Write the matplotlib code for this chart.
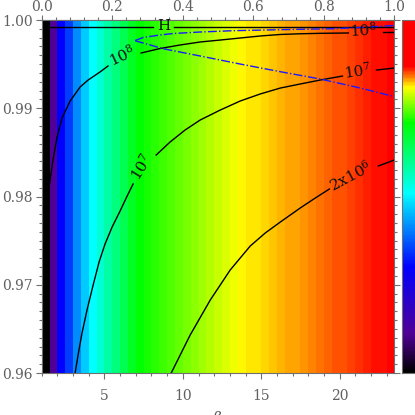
import numpy as np
import matplotlib
matplotlib.use("Agg")
import matplotlib.pyplot as plt
from matplotlib.colors import LinearSegmentedColormap
from matplotlib.ticker import MultipleLocator

plt.rcParams['font.family'] = ['DejaVu Serif']
plt.rcParams['mathtext.fontset'] = 'dejavuserif'

# stripe colour value for each 0.5-wide beta bin (1.0 .. 23.5)
stripe_edges = np.linspace(1.0, 23.5, 46)
stripe_val = [0.00, 0.11, 0.30, 0.35, 0.415, 0.465, 0.51, 0.545, 0.58, 0.61,
              0.645, 0.68, 0.71, 0.718, 0.725, 0.733, 0.741, 0.748, 0.756, 0.764,
              0.772, 0.779, 0.787, 0.795, 0.802, 0.81, 0.813, 0.816, 0.82, 0.823,
              0.826, 0.829, 0.832, 0.835, 0.838, 0.842, 0.845, 0.848, 0.851, 0.854,
              0.857, 0.861, 0.864, 0.867, 0.87]

# contour 1e8 (three pieces, broken for labels)
c8_b1 = [1.10, 1.30, 1.47, 1.72, 1.98, 2.30, 2.81, 3.45, 3.96, 4.72, 5.23]
c8_y1 = [0.9772, 0.9796, 0.9811, 0.98414, 0.98674, 0.9889, 0.99082, 0.99241, 0.9932, 0.99411, 0.99479]
c8_b2 = [7.34, 8.55, 9.83, 11.11, 12.39, 13.66, 14.94, 16.22, 17.49, 18.77, 20.56]
c8_y2 = [0.99626, 0.99677, 0.99717, 0.99751, 0.99773, 0.99796, 0.99819, 0.99836, 0.99844, 0.99849, 0.99853]
c8_b3 = [22.79, 23.5]
c8_y3 = [0.99864, 0.99864]

# contour 1e7
c7_b1 = [3.13, 3.32, 3.57, 3.89, 4.28, 4.66, 5.04, 5.49, 6.00, 6.45, 6.83]
c7_y1 = [0.96, 0.96204, 0.96453, 0.96714, 0.96997, 0.97258, 0.97462, 0.97654, 0.97836, 0.98006, 0.98142]
c7_b2 = [8.30, 9.19, 10.15, 11.11, 12.39, 13.66, 14.94, 16.22, 17.49, 18.77, 20.18]
c7_y2 = [0.9847, 0.98618, 0.98754, 0.98867, 0.9898, 0.99082, 0.99162, 0.99229, 0.99275, 0.9932, 0.99365]
c7_b3 = [22.35, 23.5]
c7_y3 = [0.99433, 0.99456]

# contour 2e6
c2_b1 = [9.26, 10.47, 11.75, 13.02, 14.30, 15.26, 16.22, 17.49, 18.45, 19.35]
c2_y1 = [0.96, 0.96431, 0.96827, 0.97167, 0.97439, 0.97587, 0.97711, 0.9787, 0.97983, 0.98085]
c2_b2 = [22.47, 23.5]
c2_y2 = [0.98346, 0.98414]

# H line
h_b1 = [1.0, 8.11]
h_b2 = [9.45, 23.5]
h_y = 0.99917

# blue dash-dot wedge
bu_b = [6.96, 7.47, 8.55, 9.38, 11.11, 13.22, 15.32, 17.49, 19.60, 21.33, 23.5]
bu_y = [0.99768, 0.99802, 0.9983, 0.99847, 0.99864, 0.99879, 0.99887, 0.99895, 0.99901, 0.99915, 0.99938]
bl_b = [6.96, 7.92, 8.68, 11.11, 13.66, 16.22, 18.77, 21.33, 23.5]
bl_y = [0.99765, 0.99717, 0.99677, 0.99592, 0.99501, 0.99414, 0.99331, 0.99229, 0.99131]

labels = [(6.13, 0.99592, r'$10^8$', 25), (21.52, 0.99887, r'$10^8$', 3),
          (7.34, 0.98334, r'$10^7$', 58), (21.14, 0.99422, r'$10^7$', 8),
          (20.69, 0.98232, r'$2\mathrm{x}10^6$', 28), (8.81, 0.99932, 'H', 0)]

rainbow = LinearSegmentedColormap.from_list('idl_rainbow', [
    (0.0, '#000000'), (0.11, '#500096'), (0.30, '#0000ff'), (0.51, '#00ffff'),
    (0.71, '#00ff00'), (0.81, '#ffff00'), (0.87, '#ff0000'), (1.0, '#ff0000')])

gray = '#707070'
fig = plt.figure(figsize=(4.15, 4.15), dpi=100)
ax = fig.add_axes([0.1005, 0.1012, 0.8501, 0.8506])
mesh = ax.pcolormesh(stripe_edges, [0.96, 1.0], np.array([stripe_val]),
                     cmap=rainbow, vmin=0, vmax=1)

for b, y in [(c8_b1, c8_y1), (c8_b2, c8_y2), (c8_b3, c8_y3),
             (c7_b1, c7_y1), (c7_b2, c7_y2), (c7_b3, c7_y3),
             (c2_b1, c2_y1), (c2_b2, c2_y2)]:
    ax.plot(b, y, color='black', lw=1.0)
ax.plot(h_b1, [h_y, h_y], color='black', lw=1.0)
ax.plot(h_b2, [h_y, h_y], color='black', lw=1.0)
ax.plot(bu_b, bu_y, color='#1a1aff', lw=1.0, ls='-.')
ax.plot(bl_b, bl_y, color='#1a1aff', lw=1.0, ls='-.')

for b, y, t, r in labels:
    ax.text(b, y, t, rotation=r, ha='center', va='center', fontsize=11,
            color='#111111', rotation_mode='anchor')

ax.set_xlim(1.0, 23.5)
ax.set_ylim(0.96, 1.0)
ax.xaxis.set_major_locator(MultipleLocator(5))
ax.xaxis.set_minor_locator(MultipleLocator(1))
ax.yaxis.set_major_locator(MultipleLocator(0.01))
ax.yaxis.set_minor_locator(MultipleLocator(0.001))
ax.set_yticks([0.96, 0.97, 0.98, 0.99, 1.0])
ax.set_yticklabels(['0.96', '0.97', '0.98', '0.99', '1.00'])
ax.tick_params(which='both', direction='out', color=gray, labelcolor='#606060',
               labelsize=10, right=True, width=0.8)
ax.tick_params(which='major', length=4.5)
ax.tick_params(which='minor', length=2.2)
ax.tick_params(axis='x', pad=7)
ax.tick_params(axis='y', pad=2)
for s in ax.spines.values():
    s.set_color(gray)
    s.set_linewidth(0.8)

top = ax.secondary_xaxis('top', functions=(lambda b: (b - 1.0) / 22.5,
                                             lambda p: p * 22.5 + 1.0))
top.xaxis.set_major_locator(MultipleLocator(0.2))
top.xaxis.set_minor_locator(MultipleLocator(0.04))
top.set_xticks([0.0, 0.2, 0.4, 0.6, 0.8, 1.0])
top.set_xticklabels(['0.0', '0.2', '0.4', '0.6', '0.8', '1.0'])
top.tick_params(which='both', direction='out', color=gray, labelcolor='#606060',
                labelsize=10, width=0.8, pad=0.8)
top.tick_params(which='major', length=3.6)
top.tick_params(which='minor', length=2.0)
top.spines['top'].set_color(gray)

fig.text(0.515, (415 - 3) / 415, r'$P_{\rm core}$', ha='center', va='bottom',
         fontsize=11, color='#606060')
fig.text(217 / 415, (415 - 409) / 415, r'$\beta$', ha='center', va='top',
         fontsize=11, color='#606060')

cax = fig.add_axes([0.968, 0.1012, 0.05, 0.8506])
cb = fig.colorbar(mesh, cax=cax)
cb.set_ticks([])
cb.outline.set_edgecolor(gray)
cb.outline.set_linewidth(0.8)

fig.savefig('out.png', dpi=100)
